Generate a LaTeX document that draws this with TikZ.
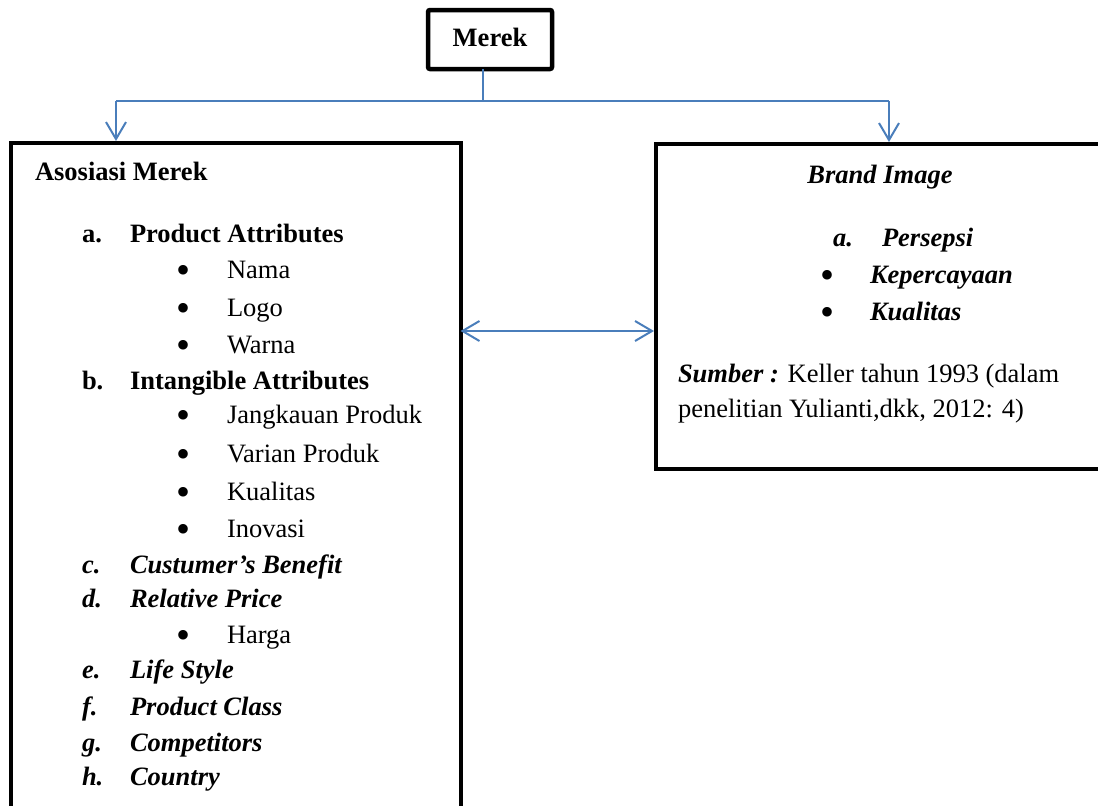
\documentclass[tikz,border=0pt]{standalone}
\usepackage{fontspec}
\setmainfont{Liberation Serif}
\usetikzlibrary{arrows.meta}
\definecolor{connblue}{HTML}{4A7EBB}
\tikzset{
  frame/.style={draw=black, line width=4.5pt, outer sep=0pt, inner sep=0pt, fill=none},
  conn/.style={draw=connblue, line width=2pt},
  tip/.style={-{Straight Barb[length=17pt,width=20pt,line width=2pt]}},
  dtip/.style={{Straight Barb[length=17pt,width=20pt,line width=2pt]}-{Straight Barb[length=17pt,width=20pt,line width=2pt]}},
  txt/.style={anchor=base west, inner sep=0pt, outer sep=0pt, font=\fontsize{26.5}{32}\selectfont},
  ctxt/.style={anchor=base, inner sep=0pt, outer sep=0pt, font=\fontsize{26.5}{32}\selectfont},
  bul/.style={anchor=base, inner sep=0pt, outer sep=0pt, font=\fontsize{40}{44}\selectfont, yshift=-5pt},
}
\newcommand{\bu}{\smash{•}}
\begin{document}
\begin{tikzpicture}[x=1pt,y=-1pt]
\useasboundingbox (0,0) rectangle (1098,806);
% boxes
\node[frame, rounded corners=2pt, minimum width=124pt, minimum height=59pt, anchor=north west] (merek) at (428,10) {};
\node[ctxt, font=\fontsize{26.5}{32}\selectfont\bfseries] (merektxt) at (490,46) {Merek};
\node[frame, minimum width=450pt, minimum height=720pt, anchor=north west] (leftbox) at (11,143) {};
\node[frame, minimum width=470pt, minimum height=325pt, anchor=north west] (rightbox) at (656,144) {};
% connectors
\coordinate (mtop) at (483,69);
\coordinate (junc) at (483,101);
\coordinate (lcorner) at (116,101);
\coordinate (rcorner) at (889,101);
\coordinate (ltip) at (116,141);
\coordinate (rtip) at (889,142);
\coordinate (aly) at (0,331);
\draw[conn] (mtop) -- (junc);
\draw[conn] (lcorner) -- (rcorner);
\draw[conn, tip] (lcorner) -- (ltip);
\draw[conn, tip] (rcorner) -- (rtip);
\draw[conn, dtip] ([xshift=-0.5pt]leftbox.east |- aly) -- ([xshift=-2pt]rightbox.west |- aly);
% left box text
\node[txt, font=\fontsize{26.5}{32}\selectfont\bfseries] (asos) at (35,180) {Asosiasi Merek};
\node[txt, font=\fontsize{26.5}{32}\selectfont\bfseries] (la) at (82,242) {a.};
\node[txt, font=\fontsize{26.5}{32}\selectfont\bfseries] (ta) at (130,242) {Product Attributes};
\node[bul] (b1) at (183.3,278) {\bu}; \node[txt] (t1) at (227,278) {Nama};
\node[bul] (b2) at (183.3,316) {\bu}; \node[txt] (t2) at (227,316) {Logo};
\node[bul] (b3) at (183.3,353) {\bu}; \node[txt] (t3) at (227,353) {Warna};
\node[txt, font=\fontsize{26.5}{32}\selectfont\bfseries] (lb) at (82,389) {b.};
\node[txt, font=\fontsize{26.5}{32}\selectfont\bfseries] (tb) at (130,389) {Intangible Attributes};
\node[bul] (b4) at (183.3,423) {\bu}; \node[txt] (t4) at (227,423) {Jangkauan Produk};
\node[bul] (b5) at (183.3,462) {\bu}; \node[txt] (t5) at (227,462) {Varian Produk};
\node[bul] (b6) at (183.3,500) {\bu}; \node[txt] (t6) at (227,500) {Kualitas};
\node[bul] (b7) at (183.3,537) {\bu}; \node[txt] (t7) at (227,537) {Inovasi};
\node[txt, font=\fontsize{26.5}{32}\selectfont\bfseries\itshape] (lc) at (82,573) {c.};
\node[txt, font=\fontsize{26.5}{32}\selectfont\bfseries\itshape] (tc) at (130,573) {Custumer’s Benefit};
\node[txt, font=\fontsize{26.5}{32}\selectfont\bfseries\itshape] (ld) at (82,607) {d.};
\node[txt, font=\fontsize{26.5}{32}\selectfont\bfseries\itshape] (td) at (130,607) {Relative Price};
\node[bul] (b8) at (183.3,643) {\bu}; \node[txt] (t8) at (227,643) {Harga};
\node[txt, font=\fontsize{26.5}{32}\selectfont\bfseries\itshape] (le) at (82,678) {e.};
\node[txt, font=\fontsize{26.5}{32}\selectfont\bfseries\itshape] (te) at (130,678) {Life Style};
\node[txt, font=\fontsize{26.5}{32}\selectfont\bfseries\itshape] (lf) at (82,715) {f.};
\node[txt, font=\fontsize{26.5}{32}\selectfont\bfseries\itshape] (tf) at (130,715) {Product Class};
\node[txt, font=\fontsize{26.5}{32}\selectfont\bfseries\itshape] (lg) at (82,751) {g.};
\node[txt, font=\fontsize{26.5}{32}\selectfont\bfseries\itshape] (tg) at (130,751) {Competitors};
\node[txt, font=\fontsize{26.5}{32}\selectfont\bfseries\itshape] (lh) at (82,785) {h.};
\node[txt, font=\fontsize{26.5}{32}\selectfont\bfseries\itshape] (th) at (130,785) {Country};
% right box text
\node[ctxt, font=\fontsize{26.5}{32}\selectfont\bfseries\itshape] (bi) at (880,183) {Brand Image};
\node[txt, font=\fontsize{26.5}{32}\selectfont\bfseries\itshape] (ra) at (833,246) {a.};
\node[txt, font=\fontsize{26.5}{32}\selectfont\bfseries\itshape] (rta) at (882,246) {Persepsi};
\node[bul] (rb1) at (827,283) {\bu};
\node[txt, font=\fontsize{26.5}{32}\selectfont\bfseries\itshape] (rt1) at (870,283) {Kepercayaan};
\node[bul] (rb2) at (827,320) {\bu};
\node[txt, font=\fontsize{26.5}{32}\selectfont\bfseries\itshape] (rt2) at (870,320) {Kualitas};
\node[txt] (src1) at (678,382) {\textbf{\textit{Sumber :}} Keller tahun 1993 (dalam};
\node[txt] (src2) at (678,417) {penelitian Yulianti,dkk, 2012: 4)};
\end{tikzpicture}
\end{document}
